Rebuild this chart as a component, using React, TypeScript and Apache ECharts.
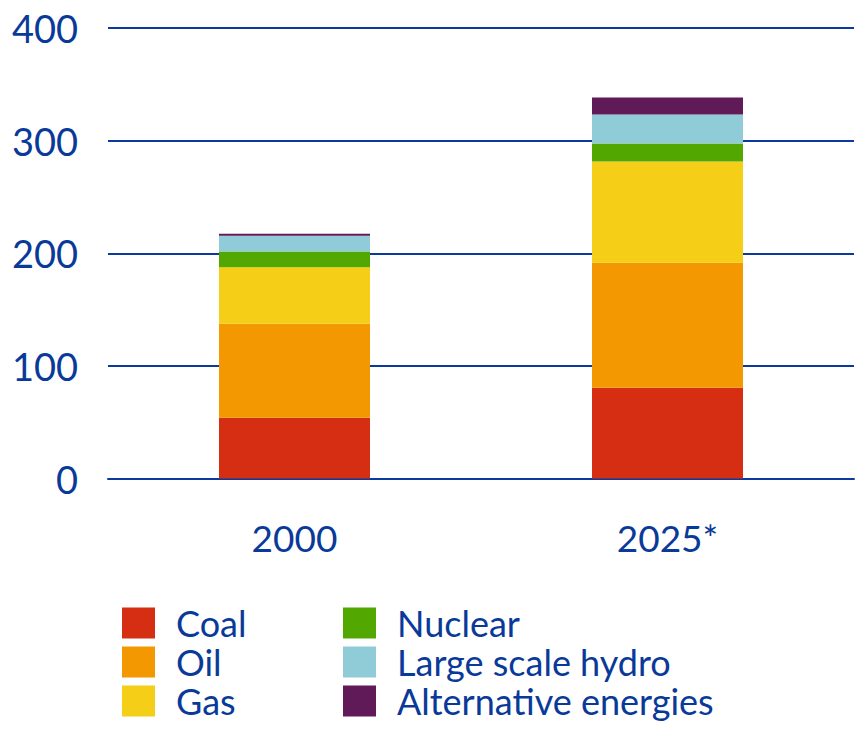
import React, { useEffect, useRef } from "react";
import * as echarts from "echarts";

const categories = ["2000", "2025*"];
const yTicks = [0, 100, 200, 300, 400];
const seriesNames = ["Coal", "Oil", "Gas", "Nuclear", "Large scale hydro", "Alternative energies"];
const coal = [54, 80.5];
const oil = [83.5, 111];
const gas = [50, 90];
const nuclear = [14, 16];
const hydro = [14, 25.7];
const alternative = [1.8, 15];
const colors = ["#D52E12", "#F39800", "#F5CF17", "#52A800", "#8FCCD8", "#611A58"];

const TEXT = "#0A3A99";
const LINE = "#0A3A9E";
const FONT = "Lato";

export default function App() {
  const ref = useRef<HTMLDivElement>(null);
  useEffect(() => {
    document.body.style.margin = "0";
    if (!ref.current) return;
    const chart = echarts.init(ref.current, undefined, { renderer: "svg" });
    const values = [coal, oil, gas, nuclear, hydro, alternative];
    const legendText = {
      color: TEXT,
      fontFamily: FONT,
      fontSize: 36,
      padding: [0, 0, 0, 16],
    };
    const legendBase = {
      orient: "vertical",
      top: 605,
      itemWidth: 33,
      itemHeight: 31,
      itemGap: 3,
      icon: "rect",
      padding: 0,
      selectedMode: false,
      textStyle: legendText,
    };
    chart.setOption({
      animation: false,
      color: colors,
      grid: { left: 108, right: 8, top: 28, bottom: 254.5, containLabel: false },
      legend: [
        { ...legendBase, left: 122, data: seriesNames.slice(0, 3) },
        { ...legendBase, left: 343, data: seriesNames.slice(3) },
      ],
      xAxis: {
        type: "category",
        data: categories,
        axisLine: { show: true, lineStyle: { color: LINE, width: 2 } },
        axisTick: { show: false },
        axisLabel: { color: TEXT, fontFamily: FONT, fontSize: 37, margin: 40 },
      },
      yAxis: {
        type: "value",
        min: yTicks[0],
        max: yTicks[yTicks.length - 1],
        interval: 100,
        axisLine: { show: false },
        axisTick: { show: false },
        axisLabel: { color: TEXT, fontFamily: FONT, fontSize: 38, margin: 30 },
        splitLine: { lineStyle: { color: LINE, width: 2 } },
      },
      series: seriesNames.map((name, i) => ({
        name,
        type: "bar",
        stack: "total",
        barWidth: 151,
        data: values[i],
        itemStyle: { color: colors[i] },
      })),
    });
    return () => chart.dispose();
  }, []);
  return <div ref={ref} style={{ width: 862, height: 733 }} />;
}
